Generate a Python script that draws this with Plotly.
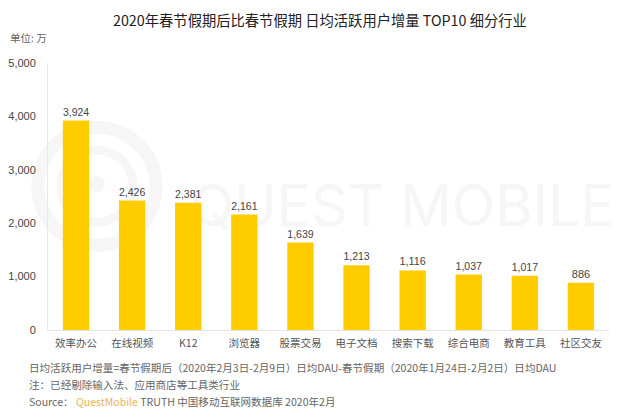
import plotly.graph_objects as go

categories = ["效率办公", "在线视频", "K12", "浏览器", "股票交易", "电子文档", "搜索下载", "综合电商", "教育工具", "社区交友"]
values = [3924, 2426, 2381, 2161, 1639, 1213, 1116, 1037, 1017, 886]
title = "2020年春节假期后比春节假期 日均活跃用户增量 TOP10 细分行业"
unit = "单位: 万"
note1 = "日均活跃用户增量=春节假期后（2020年2月3日-2月9日）日均DAU-春节假期（2020年1月24日-2月2日）日均DAU"
note2 = "注：已经剔除输入法、应用商店等工具类行业"
src = "Source： <span style='color:#e8b25a'>QuestMobile</span> TRUTH 中国移动互联网数据库 2020年2月"
watermark = "QUEST MOBILE"

FONT = "Noto Sans CJK SC, Liberation Sans, sans-serif"
W, H = 640, 411
L, R, T, B = 48, 609, 62.5, 330


def px(x):
    return (x - L) / (R - L)


def py(y):
    return (B - y) / (B - T)


def ring(cx, cy, r, w, color="#f6f6f6"):
    return dict(type="circle", xref="paper", yref="paper", layer="below",
                x0=px(cx - r), x1=px(cx + r), y0=py(cy + r), y1=py(cy - r),
                line=dict(color=color, width=w), fillcolor="rgba(0,0,0,0)")


fig = go.Figure()
# watermark sits on the first (lower) subplot so the bars paint over it
fig.add_trace(go.Scatter(x=[0.632], y=[0.443], mode="text", text=[watermark],
                         textposition="middle center", hoverinfo="skip", cliponaxis=False,
                         textfont=dict(size=57, color="#f6f6f6", family="Inter, sans-serif")))
fig.add_trace(go.Bar(
    x=categories, y=values, xaxis="x2", yaxis="y2",
    marker=dict(color="#FFCC00", line=dict(width=0)),
    width=0.47, text=[f"{v:,}" for v in values], textposition="outside",
    textfont=dict(size=11, color="#444", family="Liberation Sans, sans-serif"),
    cliponaxis=False,
))

anns = [
    dict(text=title, x=320, y=19, size=14.3, color="#222", xanchor="center"),
    dict(text=unit, x=8, y=36.5, size=10.5, color="#666", xanchor="left"),
    dict(text=note1, x=27, y=368, size=10.55, color="#666", xanchor="left"),
    dict(text=note2, x=27, y=385, size=10.55, color="#666", xanchor="left"),
    dict(text=src, x=27, y=402, size=10.55, color="#666", xanchor="left"),
]

hidden = dict(visible=False, range=[0, 1], fixedrange=True, automargin=False)
fig.update_layout(
    width=W, height=H, autosize=False,
    margin=dict(l=L, r=W - R, t=T, b=H - B, autoexpand=False),
    paper_bgcolor="white", plot_bgcolor="rgba(0,0,0,0)",
    showlegend=False, bargap=0.53,
    font=dict(family=FONT),
    xaxis=hidden,
    yaxis=hidden,
    xaxis2=dict(anchor="y2", showgrid=False, zeroline=False, showline=True, linecolor="#e4e4e4", linewidth=1,
                automargin=False, ticks="outside", ticklen=3, tickcolor="rgba(255,255,255,0)",
                tickfont=dict(size=10.5, color="#555", family=FONT), tickangle=0, fixedrange=True),
    yaxis2=dict(anchor="x2", range=[0, 5000], tickvals=[0, 1000, 2000, 3000, 4000, 5000], tickformat=",",
                showgrid=False, zeroline=False, showline=True, linecolor="#e8e8e8", linewidth=1,
                automargin=False, ticks="outside", ticklen=9, tickcolor="rgba(255,255,255,0)",
                tickfont=dict(size=11, color="#444", family="Liberation Sans, sans-serif"),
                fixedrange=True),
    shapes=[ring(97, 186, 59, 13), ring(97, 186, 36, 9),
            dict(type="circle", xref="paper", yref="paper", layer="below",
                 x0=px(89), x1=px(105), y0=py(192), y1=py(176),
                 fillcolor="#f6f6f6", line=dict(width=0))],
    annotations=[dict(text=a["text"], x=px(a["x"]), y=py(a["y"]), xref="paper", yref="paper",
                      xanchor=a["xanchor"], yanchor="middle", showarrow=False,
                      font=dict(size=a["size"], color=a["color"], family=FONT)) for a in anns],
)
fig.write_html("out.html", config={"displayModeBar": False},
               post_script="document.body.style.margin='0';document.body.style.overflow='hidden';")
